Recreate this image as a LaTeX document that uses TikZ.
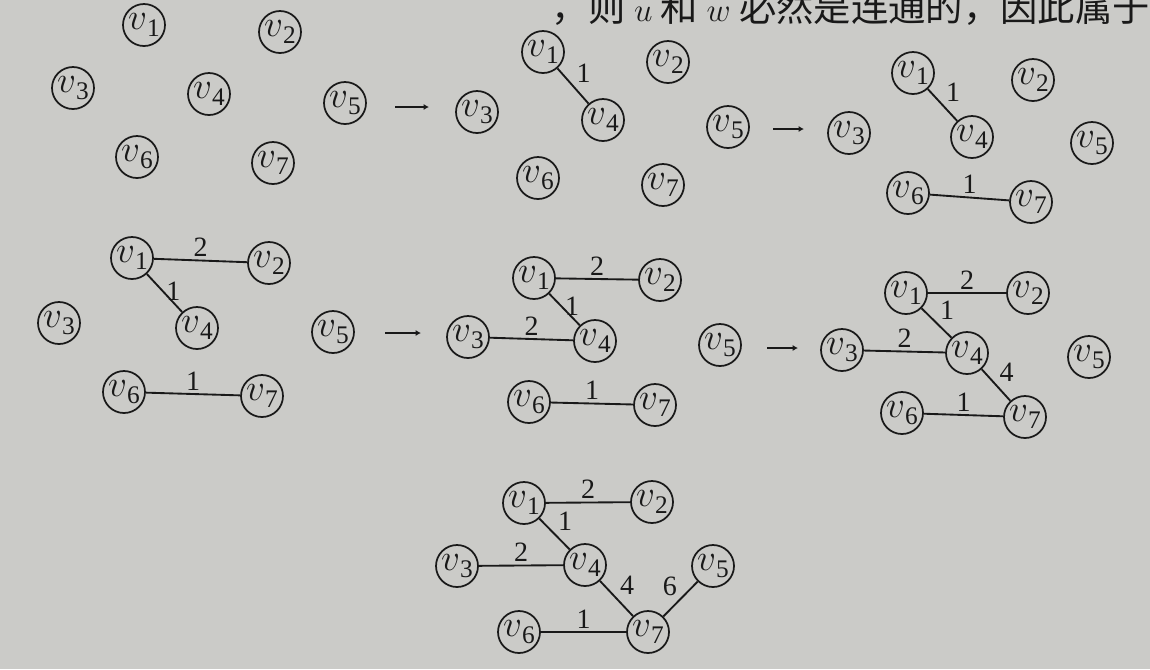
\documentclass[tikz,border=0pt]{standalone}
\usepackage{fontspec}
\setmainfont{Liberation Serif}
\newfontfamily\cjk{Noto Sans CJK SC}
\usetikzlibrary{arrows.meta}

\newcommand{\vlab}[1]{{\fontsize{25}{25}\selectfont\scalebox{1.12}{$v$}}\raisebox{-5pt}{\fontsize{19}{19}\selectfont #1}}

\tikzset{
  vtx/.style={draw, circle, inner sep=0pt, minimum size=31.5pt, line width=1.3pt},
  wt/.style={font=\fontsize{21}{21}\selectfont, inner sep=2pt},
  edg/.style={line width=1.4pt},
  stepto/.style={line width=1.4pt, -{Latex[length=4pt,width=4.5pt]}}
}

\begin{document}
\begin{tikzpicture}[x=0.75pt,y=0.75pt,yscale=-1,xscale=1,color={rgb, 255:red, 25; green, 25; blue, 25 }]
%set diagram to the size of the photo
\fill [color={rgb, 255:red, 203; green, 203; blue, 200 }] (0,0) rectangle (1150,669);
\useasboundingbox (0,0) rectangle (1150,669);

% Text Node (cut by the top edge)
\node [anchor=base east, inner sep=0pt, font=\cjk\fontsize{28}{28}\selectfont] (head) at (1150,21) {，则 $u$ 和 $w$ 必然是连通的，因此属于};

% Panel 1
\node [vtx] (a1) at (144,25) {\vlab{1}};
\node [vtx] (a2) at (280,32) {\vlab{2}};
\node [vtx] (a3) at (73,88) {\vlab{3}};
\node [vtx] (a4) at (209,94) {\vlab{4}};
\node [vtx] (a5) at (345,103) {\vlab{5}};
\node [vtx] (a6) at (137,157) {\vlab{6}};
\node [vtx] (a7) at (273,163) {\vlab{7}};
\coordinate (s1) at (395,107);
\coordinate (t1) at (429,107);
\draw [stepto] (s1) -- (t1);

% Panel 2
\node [vtx] (b1) at (543,52) {\vlab{1}};
\node [vtx] (b2) at (668,62) {\vlab{2}};
\node [vtx] (b3) at (477,112) {\vlab{3}};
\node [vtx] (b4) at (603,120) {\vlab{4}};
\node [vtx] (b5) at (728,127) {\vlab{5}};
\node [vtx] (b6) at (538,178) {\vlab{6}};
\node [vtx] (b7) at (663,185) {\vlab{7}};
\draw [edg] (b1) -- node [wt, above right] {1} (b4);
\coordinate (s2) at (773,129);
\coordinate (t2) at (804,129);
\draw [stepto] (s2) -- (t2);

% Panel 3
\node [vtx] (c1) at (913,73) {\vlab{1}};
\node [vtx] (c2) at (1033,80) {\vlab{2}};
\node [vtx] (c3) at (849,133) {\vlab{3}};
\node [vtx] (c4) at (972,137) {\vlab{4}};
\node [vtx] (c5) at (1092,143) {\vlab{5}};
\node [vtx] (c6) at (908,193) {\vlab{6}};
\node [vtx] (c7) at (1031,202) {\vlab{7}};
\draw [edg] (c1) -- node [wt, above right] {1} (c4);
\draw [edg] (c6) -- node [wt, above] {1} (c7);

% Panel 4
\node [vtx] (d1) at (132,258) {\vlab{1}};
\node [vtx] (d2) at (269,263) {\vlab{2}};
\node [vtx] (d3) at (59,323) {\vlab{3}};
\node [vtx] (d4) at (197,328) {\vlab{4}};
\node [vtx] (d5) at (333,332) {\vlab{5}};
\node [vtx] (d6) at (124,392) {\vlab{6}};
\node [vtx] (d7) at (262,396) {\vlab{7}};
\draw [edg] (d1) -- node [wt, above] {2} (d2);
\draw [edg] (d1) -- node [wt, right, pos=0.45] {1} (d4);
\draw [edg] (d6) -- node [wt, above] {1} (d7);
\coordinate (s3) at (385,333);
\coordinate (t3) at (421,333);
\draw [stepto] (s3) -- (t3);

% Panel 5
\node [vtx] (e1) at (534,278) {\vlab{1}};
\node [vtx] (e2) at (660,280) {\vlab{2}};
\node [vtx] (e3) at (468,337) {\vlab{3}};
\node [vtx] (e4) at (595,341) {\vlab{4}};
\node [vtx] (e5) at (720,345) {\vlab{5}};
\node [vtx] (e6) at (529,402) {\vlab{6}};
\node [vtx] (e7) at (655,405) {\vlab{7}};
\draw [edg] (e1) -- node [wt, above] {2} (e2);
\draw [edg] (e1) -- node [wt, right, pos=0.4] {1} (e4);
\draw [edg] (e3) -- node [wt, above] {2} (e4);
\draw [edg] (e6) -- node [wt, above] {1} (e7);
\coordinate (s4) at (767,348);
\coordinate (t4) at (798,348);
\draw [stepto] (s4) -- (t4);

% Panel 6
\node [vtx] (f1) at (906,293) {\vlab{1}};
\node [vtx] (f2) at (1028,293) {\vlab{2}};
\node [vtx] (f3) at (842,350) {\vlab{3}};
\node [vtx] (f4) at (967,353) {\vlab{4}};
\node [vtx] (f5) at (1089,357) {\vlab{5}};
\node [vtx] (f6) at (902,413) {\vlab{6}};
\node [vtx] (f7) at (1025,417) {\vlab{7}};
\draw [edg] (f1) -- node [wt, above] {2} (f2);
\draw [edg] (f1) -- node [wt, above right] {1} (f4);
\draw [edg] (f3) -- node [wt, above] {2} (f4);
\draw [edg] (f4) -- node [wt, above right] {4} (f7);
\draw [edg] (f6) -- node [wt, above] {1} (f7);

% Panel 7
\node [vtx] (g1) at (524,503) {\vlab{1}};
\node [vtx] (g2) at (652,502) {\vlab{2}};
\node [vtx] (g3) at (457,566) {\vlab{3}};
\node [vtx] (g4) at (585,565) {\vlab{4}};
\node [vtx] (g5) at (713,566) {\vlab{5}};
\node [vtx] (g6) at (519,632) {\vlab{6}};
\node [vtx] (g7) at (648,632) {\vlab{7}};
\draw [edg] (g1) -- node [wt, above] {2} (g2);
\draw [edg] (g1) -- node [wt, above right] {1} (g4);
\draw [edg] (g3) -- node [wt, above] {2} (g4);
\draw [edg] (g4) -- node [wt, above right] {4} (g7);
\draw [edg] (g7) -- node [wt, above left] {6} (g5);
\draw [edg] (g6) -- node [wt, above] {1} (g7);

\end{tikzpicture}
\end{document}
